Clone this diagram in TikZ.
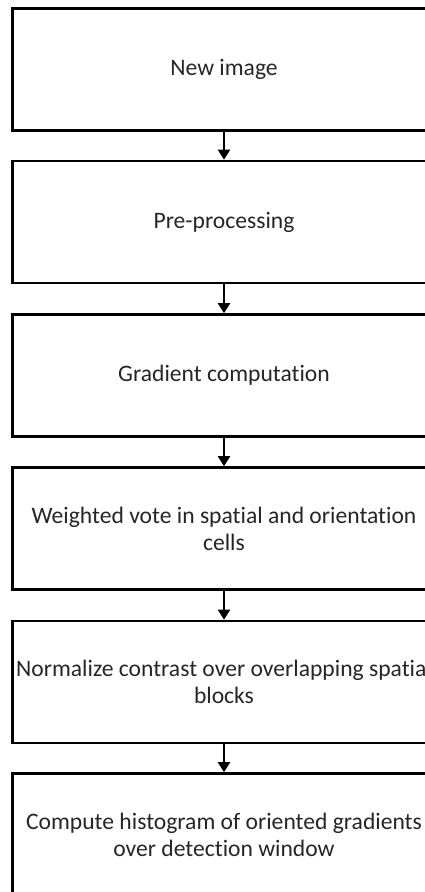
\documentclass[tikz,border=0pt]{standalone}
\usepackage{fontspec}
\setmainfont{Carlito}[RawFeature=-liga]
\usetikzlibrary{arrows.meta}
\begin{document}
\begin{tikzpicture}[x=1pt,y=-1pt,
  stepbox/.style={draw=black,line width=2.6pt,minimum width=423.5pt,minimum height=122pt,
    inner sep=0pt,align=center,font=\fontsize{23.6}{27}\selectfont,text=black!85},
  flow/.style={line width=2pt,-{Triangle[length=10pt,width=12pt]}}]
\useasboundingbox (0,0) rectangle (425,892);
\clip (0,0) rectangle (425,892);
\node[stepbox] (n1) at (224,69.5) {New image};
\node[stepbox] (n2) at (224,222) {Pre-processing};
\node[stepbox] (n3) at (224,375.5) {Gradient computation};
\node[stepbox] (n4) at (224,528.5) {Weighted vote in spatial and orientation\\cells};
\node[stepbox] (n5) at (224,682) {Normalize contrast over overlapping spatial\\blocks};
\node[stepbox] (n6) at (224,834.5) {Compute histogram of oriented gradients\\over detection window};
\draw[flow] (n1.south) -- (n2.north);
\draw[flow] (n2.south) -- (n3.north);
\draw[flow] (n3.south) -- (n4.north);
\draw[flow] (n4.south) -- (n5.north);
\draw[flow] (n5.south) -- (n6.north);
\end{tikzpicture}
\end{document}
